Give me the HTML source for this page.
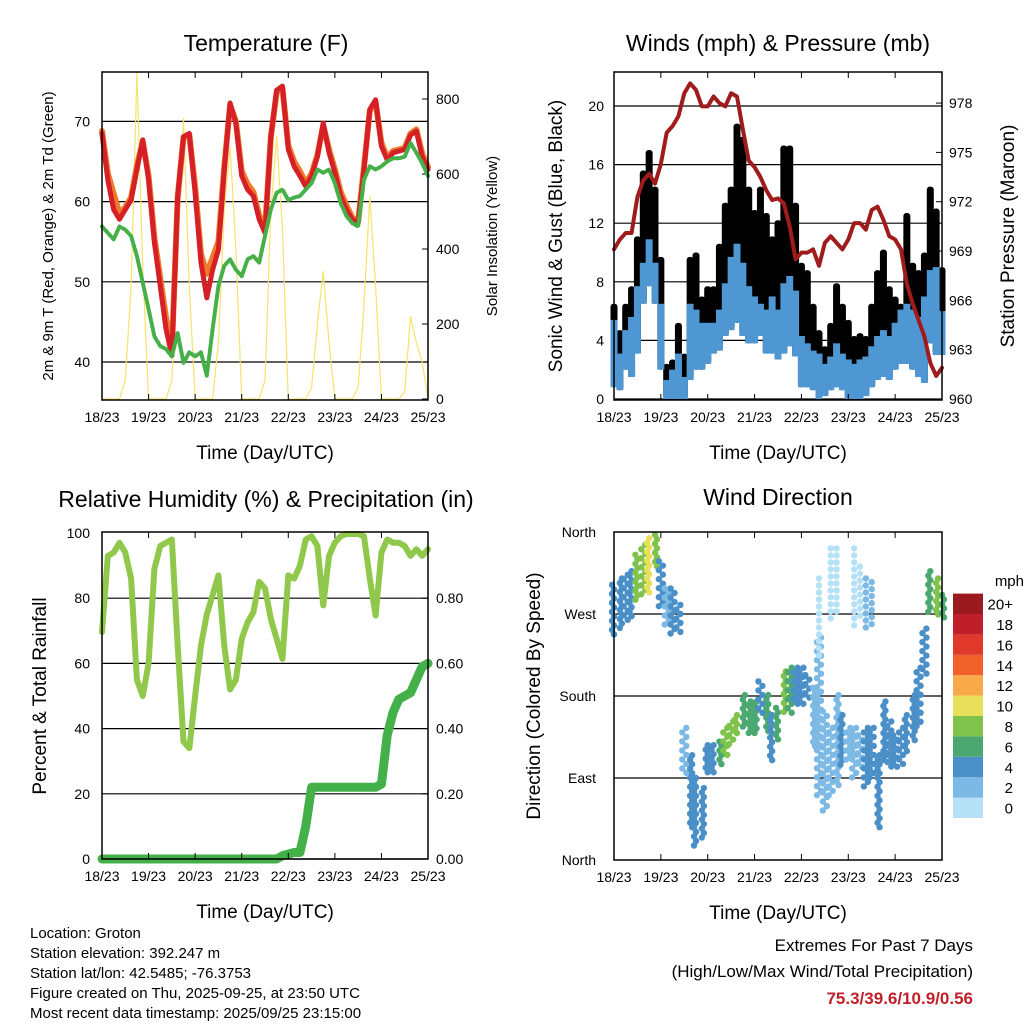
<!DOCTYPE html>
<html><head><meta charset="utf-8"><style>
body{margin:0;background:#fff;}
svg{display:block;font-family:"Liberation Sans",Arial,sans-serif;}
</style></head><body>
<svg id="c" width="1024" height="1024" viewBox="0 0 1024 1024"></svg>
<script>
const tempRed=[68.5,62.7,59,57.8,59,60.2,64,67.7,62.7,54.9,49.5,44.1,40.8,60.7,68.1,68.5,61.1,52.4,48,51.5,54,64,72.3,69.8,63.2,61.5,60.7,57.8,56.1,68.1,73.9,74.4,66.5,64.4,63.2,61.9,63.2,65.6,69.8,66.1,63.6,60.7,59,57.8,57.3,64,71.5,72.7,66.9,65.2,66.1,66.3,66.5,68.3,68.8,65.6,64];
const tempOrange=[68.8,63.5,61,58.5,59.3,60.5,64.5,67.5,63.2,55.5,50.5,45.5,41.5,60.5,68,68.3,61.8,53.5,51,53,55,64.3,72,70,63.8,62.2,61.2,58.3,56.5,68,73.6,74.1,67,65,63.8,62.3,63.5,65.8,69.5,66.5,64,61.2,59.5,58,57.5,64.3,71.3,72.4,67.3,65.5,66.3,66.5,66.7,68.5,69,66,64.3];
const dewGreen=[56.9,56.1,55.3,56.9,56.5,55.7,53.2,49.9,46.6,43.2,42,41.6,40.7,43.6,39.9,41.2,40.7,41.2,38.3,44.1,49.5,52,52.8,51.5,50.7,52.8,53.2,52.4,55.7,59,61.1,61.5,60.2,60.5,60.7,61.5,62.3,64,63.6,64,62.3,59.8,58.2,57.3,56.9,62.7,64.4,64,64.4,65,65.4,65.4,65.6,67.3,66.1,64.8,63.2];
const solar=[0,0,0,0,50,300,870,350,0,0,0,0,50,400,748,300,0,0,0,0,150,500,673,400,0,0,0,0,50,500,700,450,0,0,0,0,30,200,340,150,0,0,0,0,30,250,540,300,0,0,0,0,20,220,150,100,0];
const pressure=[969.1,969.7,970.1,970.1,972.3,973.3,973.7,973.1,974.3,976.2,976.6,977.2,978.6,979.2,978.8,977.8,977.8,978.4,978,977.8,978.6,978.4,976.4,974.5,974.1,973.5,972.7,972.1,972.2,971.9,970.5,968.5,968.9,968.9,969.1,968.1,969.5,969.9,969.5,969.1,969.7,970.7,970.7,970.3,971.5,971.7,970.9,969.9,969.7,969.1,967,965.8,964.8,963.8,962.2,961.4,961.9];
const gustHi=[6.5,4.7,6.5,7.7,11.1,15.6,17,14.5,9.7,2.4,2.7,5.2,3.1,9.7,10,7,7.7,7.7,10.6,13.4,14.5,18.8,17.9,14.5,12.9,14.5,12.7,11.1,12.2,17.3,17.3,13.4,9.3,8.8,6.5,4.7,3.6,5.2,7.9,6.5,5.4,4.3,4.5,4.3,6.5,8.8,10.2,7.7,7,6.5,12.7,9.3,8.8,10,14.5,13,9];
const windHi=[5.4,3.1,4.7,5.6,7.7,9.3,10.9,9.3,6.5,1.3,2,3.1,1.5,6.5,6.1,5.2,5.2,5.2,6.1,7.9,9.7,10.6,9.3,7.7,7,6.5,6.1,7,6.1,7.9,8.4,7.4,4.3,3.8,3.3,3.1,2.4,2.9,3.8,3.1,2.7,2.4,2.7,2.9,3.6,4.3,4.7,4.3,5.2,6.1,6.5,6.1,5.6,7,8.8,9,6];
const windLo=[0.8,0.6,2,1.5,3.1,6.5,7.7,6.5,2,0,0,0,0,1.3,2,2,2.4,3.1,3.3,4.3,4.7,5.2,4.3,3.8,3.8,4.3,3.1,3.1,2.7,3.1,3.6,2.9,0.8,0.8,0.6,0,0.2,0.6,0.8,0.6,0,0,0,0.2,0.8,1.3,1.5,1.3,2,2.4,2.4,2,1.5,1.1,3.8,3,3];
const rh=[69.6,93,94,97,94,86,55,50,60,89,96,97,98,65.5,36,34,50,65.5,75,81,87,65.5,52,55,67.5,72.6,75.7,85,83,73.7,67.5,61.4,87,86,90,98,99,96,77.8,93,97,99,99.7,99.7,99.7,99,86,74.7,94,98,97,97,96,93,95,93,95];
const precip=[0,0,0,0,0,0,0,0,0,0,0,0,0,0,0,0,0,0,0,0,0,0,0,0,0,0,0,0,0,0,0,0.01,0.015,0.02,0.02,0.1,0.22,0.22,0.22,0.22,0.22,0.22,0.22,0.22,0.22,0.22,0.22,0.22,0.23,0.38,0.45,0.49,0.5,0.51,0.55,0.59,0.6];
const dirHi=[302,309,313,317,335,346,353,357,328,298,298,280,145,115,90,79,126,126,130,145,152,159,181,174,174,196,181,159,167,207,211,211,211,203,189,244,163,145,181,159,145,145,137,145,145,115,174,152,137,145,159,181,211,254,317,309,291];
const dirLo=[243,254,262,265,284,291,291,320,276,254,247,247,93,35,16,20,93,93,101,115,123,137,145,137,137,159,137,108,130,159,159,167,170,174,123,71,53,71,79,101,108,90,101,79,86,35,108,101,101,101,115,130,145,203,269,269,265];
const dirAltHi=[null,null,null,null,null,null,null,null,null,null,null,null,null,null,null,null,null,null,null,null,null,null,null,null,null,null,null,null,null,null,null,null,null,null,null,309,null,342,342,null,null,342,322,309,305,null,null,null,null,null,null,null,null,null,null,null,null];
const dirAltLo=[null,null,null,null,null,null,null,null,null,null,null,null,null,null,null,null,null,null,null,null,null,null,null,null,null,null,null,null,null,null,null,null,null,null,null,218,null,262,269,null,null,254,262,254,254,null,null,null,null,null,null,null,null,null,null,null,null];
const speed=[3,3,3,3,7,8,9,8,3,2,3,3,2,3,4,3,4,4,5,7,8,7,5,6,5,4,5,4,6,7,5,4,4,3,2,2,2,2,2,3,2,2,2,3,3,4,4,3,4,4,3,3,3,4,6,7,5];
const dayLabels=["18/23","19/23","20/23","21/23","22/23","23/23","24/23","25/23"];
const tempTicks=[40,50,60,70];
const solarTicks=[0,200,400,600,800];
const windTicks=[0,4,8,12,16,20];
const presTicks=[960,963,966,969,972,975,978];
const rhTicks=[0,20,40,60,80,100];
const rainTicks=["0.00","0.20","0.40","0.60","0.80"];
const dirTicks=["North","East","South","West","North"];
const cbLabels=["0","2","4","6","8","10","12","14","16","18","20+"];
const cbColors=["#b5e1f7","#7db9e5","#4a8fc7","#4aa870","#7fc24c","#e8e05a","#f8a94a","#f06129","#e0382a","#bf1e2a","#9b1a1f"];

const S=document.getElementById('c');const NS='http://www.w3.org/2000/svg';
function el(t,a,p){const e=document.createElementNS(NS,t);for(const k in a)e.setAttribute(k,a[k]);(p||S).appendChild(e);return e;}
function txt(x,y,s,size,anchor,extra){const e=el('text',Object.assign({x:x,y:y,'font-size':size,'text-anchor':anchor||'middle',fill:'#000'},extra||{}));e.textContent=s;return e;}
const H=i=>i*3;
function panel(name,x0,x1,y0,y1){
  const g=el('g',{});
  
  
  return g;
}
function frame(g,x0,x1,y0,y1){const r=el('rect',{x:x0,y:y0,width:x1-x0,height:y1-y0,fill:'none',stroke:'#000','stroke-width':1.5},g);}
function xAxis(g,x0,x1,y0,y1){
  for(let d=0;d<8;d++){const x=x0+d*(x1-x0)/7;
    el('line',{x1:x,x2:x,y1:y1,y2:y1-6,stroke:'#000'},g);el('line',{x1:x,x2:x,y1:y0,y2:y0+6,stroke:'#000'},g);
    const t=txt(x,y1+22,dayLabels[d],14,'middle',{},g);g.appendChild(t);
    }
  const t=txt((x0+x1)/2,y1+59,'Time (Day/UTC)',19);g.appendChild(t);
  
}
function hgrid(g,x0,x1,y,w){el('line',{x1:x0,x2:x1,y1:y,y2:y,stroke:'#000','stroke-width':w||1.2},g);}
function vtitle(g,x,y,s,size,name){const t=txt(x,y,s,size,'middle',{transform:`rotate(-90 ${x} ${y})`});g.appendChild(t);}
function poly(g,pts,color,w,name){const p=el('polyline',{points:pts.map(p=>p.join(',')).join(' '),fill:'none',stroke:color,'stroke-width':w,'stroke-linejoin':'round','stroke-linecap':'round'},g);return p;}

// ---------- Panel 1: Temperature ----------
{const x0=102,x1=428,y0=72,y1=400;const g=panel('temperature-panel');
 const X=h=>x0+h/168*(x1-x0), YT=t=>362-(t-40)*8.02, YS=v=>399-v*0.375;
 tempTicks.forEach(t=>{hgrid(g,x0,x1,YT(t));const l=txt(x0-12,YT(t)+5,String(t),14,'end');g.appendChild(l);});
 solarTicks.forEach(v=>{el('line',{x1:x1,x2:x1-6,y1:YS(v),y2:YS(v),stroke:'#000'},g);const l=txt(x1+8,YS(v)+5,String(v),14,'start');g.appendChild(l);});
 poly(g,solar.map((v,i)=>[X(H(i)),YS(v)]),'#f7e36a',1.2,'solar-line');
 poly(g,tempOrange.map((v,i)=>[X(H(i)),YT(v)]),'#f07a2a',6,'temp-9m-line');
 poly(g,tempRed.map((v,i)=>[X(H(i)),YT(v)]),'#d42026',5,'temp-2m-line');
 const dp=poly(g,dewGreen.map((v,i)=>[X(H(i)),YT(v)]),'#46b048',4,'dewpoint-line');dp.setAttribute('stroke-dasharray','3 2');
 frame(g,x0,x1,y0,y1);xAxis(g,x0,x1,y0,y1);
 const t=txt(266,51,'Temperature (F)',23);g.appendChild(t);
 vtitle(g,53,236,'2m & 9m T (Red, Orange) & 2m Td (Green)',15,'y-axis-title');
 vtitle(g,497,236,'Solar Insolation (Yellow)',15,'y2-axis-title');
}
// ---------- Panel 2: Winds ----------
{const x0=614,x1=942,y0=72,y1=400;const g=panel('winds-panel');
 const X=h=>x0+h/168*(x1-x0), YW=w=>399-w*14.65, YP=p=>399-(p-960)*16.44;
 windTicks.forEach(w=>{hgrid(g,x0,x1,YW(w));const l=txt(x0-10,YW(w)+5,String(w),14,'end');g.appendChild(l);});
 presTicks.forEach(p=>{el('line',{x1:x1,x2:x1-6,y1:YP(p),y2:YP(p),stroke:'#000'},g);const l=txt(x1+7,YP(p)+5,String(p),14,'start');g.appendChild(l);});
 gustHi.forEach((v,i)=>{const x=X(H(i));const r=el('rect',{x:x-3.5,y:YW(v),width:7,height:Math.max(2,YW(windLo[i])-YW(v)),rx:3,fill:'#000'},g);
   });
 windHi.forEach((v,i)=>{const x=X(H(i));const r=el('rect',{x:x-3.5,y:YW(v),width:7,height:Math.max(2,YW(windLo[i])-YW(v)),fill:'#4f97d3'},g);
   });
 poly(g,pressure.map((v,i)=>[X(H(i)),YP(v)]),'#a01c1c',4,'pressure-line');
 frame(g,x0,x1,y0,y1);xAxis(g,x0,x1,y0,y1);
 const t=txt(778,51,'Winds (mph) & Pressure (mb)',23);g.appendChild(t);
 vtitle(g,562,236,'Sonic Wind & Gust (Blue, Black)',19,'y-axis-title');
 vtitle(g,1014,236,'Station Pressure (Maroon)',19,'y2-axis-title');
}
// ---------- Panel 3: RH ----------
{const x0=102,x1=428,y0=532,y1=859;const g=panel('humidity-panel');
 const X=h=>x0+h/168*(x1-x0), Y=v=>859-v*3.26;
 rhTicks.forEach(v=>{if(v<100)hgrid(g,x0,x1,Y(v));const l=txt(x0-12,Y(v)+5,String(v),14,'end');g.appendChild(l);});
 rainTicks.forEach((s,k)=>{const y=Y(k*20);el('line',{x1:x1,x2:x1-6,y1:y,y2:y,stroke:'#000'},g);const l=txt(x1+8,y+5,s,14,'start');g.appendChild(l);});
 poly(g,rh.map((v,i)=>[X(H(i)),Y(v)]),'#8fc84a',6,'humidity-line');
 poly(g,precip.map((v,i)=>[X(H(i)),Y(v*100)]),'#44b04a',9,'precip-line');
 frame(g,x0,x1,y0,y1);xAxis(g,x0,x1,y0,y1);
 const t=txt(266,507,'Relative Humidity (%) & Precipitation (in)',23);g.appendChild(t);
 vtitle(g,46,696,'Percent & Total Rainfall',19,'y-axis-title');
}
// ---------- Panel 4: Wind direction ----------
{const x0=614,x1=942,y0=532,y1=860;const g=panel('wind-direction-panel');
 const X=h=>x0+h/168*(x1-x0), Y=d=>860-d*328/360;
 dirTicks.forEach((s,k)=>{const y=Y(k*90);if(k>0&&k<4)hgrid(g,x0,x1,y);const l=txt(x0-18,y+5,s,14,'end');g.appendChild(l);});
 const col=s=>cbColors[Math.min(10,Math.max(0,Math.round(s/2)))];
 const light=s=>cbColors[Math.max(0,Math.round(s/2)-1)];
 dirHi.forEach((hi,i)=>{const x=X(H(i));const ya=Y(hi),yb=Y(dirLo[i]);
   for(let y=ya;y<=yb+0.1;y+=4.5){const c=el('circle',{cx:x+((Math.round(y)%3)-1)*2,cy:y,r:3.2,fill:col(speed[i])},g);
     }});
 dirAltHi.forEach((hi,i)=>{if(hi===null)return;const x=X(H(i));const ya=Y(hi),yb=Y(dirAltLo[i]);
   for(let y=ya;y<=yb+0.1;y+=7){const c=el('circle',{cx:x,cy:y,r:3.2,fill:light(speed[i])},g);
     }});
 frame(g,x0,x1,y0,y1);xAxis(g,x0,x1,y0,y1);
 const t=txt(778,505,'Wind Direction',23);g.appendChild(t);
 vtitle(g,540,696,'Direction (Colored By Speed)',19,'y-axis-title');
 // colorbar
 const cg=el('g',{},g);
 cbColors.forEach((c,k)=>{const y=818-(k+1)*20.4;const r=el('rect',{x:953,y:y,width:30,height:20.4,fill:c},cg);
   const l=txt(1013,y+16,cbLabels[k],15,'end');cg.appendChild(l);});
 const m=txt(1024,586,'mph',15,'end');cg.appendChild(m);
}
// ---------- Footer ----------
{const lines=['Location: Groton','Station elevation: 392.247 m','Station lat/lon: 42.5485; -76.3753','Figure created on Thu, 2025-09-25, at 23:50 UTC','Most recent data timestamp: 2025/09/25 23:15:00'];
 lines.forEach((s,k)=>{const t=txt(30,938+k*20,s,15,'start');});
 let t=txt(973,951,'Extremes For Past 7 Days',17,'end');
 t=txt(973,977,'(High/Low/Max Wind/Total Precipitation)',17,'end');
 t=txt(973,1004,'75.3/39.6/10.9/0.56',17,'end',{fill:'#c0202a','font-weight':'bold'});
}
</script>
</body></html>
